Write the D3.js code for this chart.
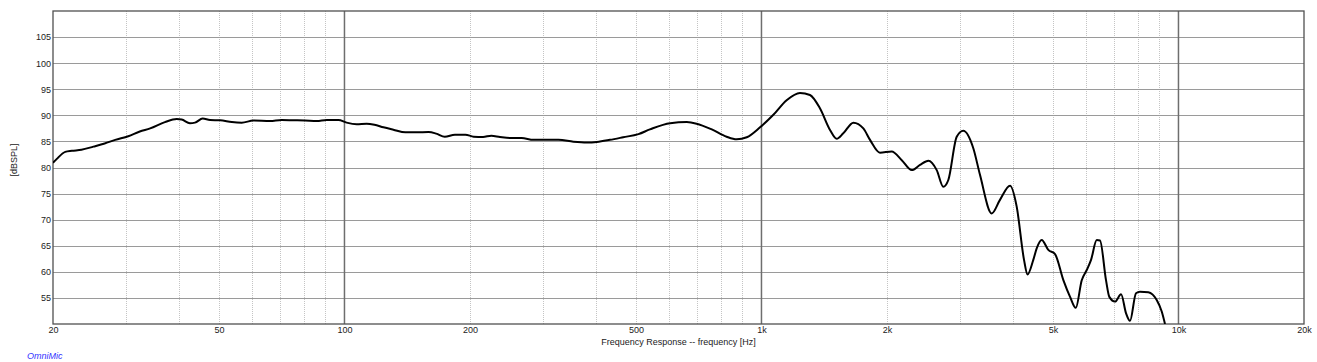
<!DOCTYPE html>
<html lang='en'>
	<head>
		<title>OmniMic Frequency Response</title>
		<script type='text/javascript' src='https://cdn.jsdelivr.net/npm/d3@7'></script>
		<style>
			body { margin: 0; background: #fff; }
			text { font-family: 'Liberation Sans', Arial, sans-serif; }
		</style>
	</head>
	<body>
		<svg id='svg' width='1317' height='362'></svg>
		<script type='text/javascript'>
		{
			// measured response
			var freq = [20, 20.4, 21.4, 22.2, 23.4, 25.0, 26.6, 28.2, 30.3, 32.3, 34.2, 37.1, 39.6, 40.7, 42.6, 43.8, 45.7, 47.6,
				50.3, 53.7, 56.7, 60.5, 66.3, 70.7, 75.4, 80.4, 85.8, 90.7, 96.7, 101.2, 107, 113, 118, 124, 131, 140, 149,
				159, 166, 174, 184, 195, 204, 215, 225, 236, 250, 266, 284, 306, 326, 354, 381, 403, 433, 466, 507, 540,
				604, 662, 699, 760, 825, 872, 922, 992, 1068, 1149, 1237, 1307, 1381, 1460, 1515, 1571, 1661, 1755, 1821,
				1924, 2052, 2170, 2293, 2400, 2513, 2632, 2729, 2806, 2939, 3048, 3221, 3342, 3566, 3732, 3945, 4093,
				4262, 4345, 4486, 4571, 4699, 4874, 5058, 5296, 5496, 5672, 5862, 6026, 6171, 6368, 6485, 6702, 6826,
				7046, 7284, 7487, 7652, 7910, 8087, 8466, 8868, 9117, 9284];
			var spl = [80.9, 81.6, 83.0, 83.2, 83.4, 84.0, 84.6, 85.3, 86.0, 86.9, 87.5, 88.7, 89.3, 89.2, 88.5, 88.6, 89.4, 89.1,
				89.05, 88.7, 88.6, 89.0, 88.9, 89.1, 89.05, 89.0, 88.9, 89.1, 89.1, 88.6, 88.3, 88.4, 88.2, 87.7, 87.25, 86.75, 86.75,
				86.8, 86.5, 85.9, 86.3, 86.3, 85.9, 85.85, 86.1, 85.85, 85.65, 85.65, 85.3, 85.3, 85.3, 84.95, 84.8, 84.9, 85.3, 85.8, 86.4, 87.3,
				88.5, 88.7, 88.4, 87.3, 85.9, 85.4, 85.8, 87.7, 90.1, 92.9, 94.3, 93.9, 91.35, 87.2, 85.5, 86.55, 88.6, 87.5, 85.3,
				82.85, 83.05, 81.4, 79.5, 80.5, 81.3, 79.5, 76.3, 77.6, 85.9, 87.05, 83.7, 78.6, 71.2, 73.8, 76.5, 72.5,
				62.3, 59.5, 62.3, 64.5, 66.1, 64.2, 63.4, 58.4, 55.2, 53.1, 58.4, 60.35, 62.3, 66.1, 66.0, 58.4, 55.2,
				54.3, 55.7, 52.05, 50.6, 55.9, 56.2, 56.1, 54.6, 52.4, 50.0];

			var xTicks = [20, 50, 100, 200, 500, 1000, 2000, 5000, 10000, 20000];
			var xTickLabels = ['20', '50', '100', '200', '500', '1k', '2k', '5k', '10k', '20k'];
			var yTicks = [55, 60, 65, 70, 75, 80, 85, 90, 95, 100, 105];
			var majorFreqs = [100, 1000, 10000];

			var minorFreqs = [];
			[10, 100, 1000].forEach(function(dec) {
				for (var k = 2; k <= 9; k++) {
					var f = k * dec;
					if (f > 20 && f < 20000 && majorFreqs.indexOf(f) < 0) minorFreqs.push(f);
				}
			});

			var plotL = 53, plotR = 1304, plotT = 11, plotB = 324;
			var svg = d3.select('#svg');

			var x = d3.scaleLog().domain([20, 20000]).range([plotL, plotR]);
			var y = d3.scaleLinear().domain([50, 110]).range([plotB, plotT]);

			// minor dotted verticals
			svg.append('g').selectAll('line').data(minorFreqs).enter().append('line')
				.attr('x1', d => Math.round(x(d)) + 0.5).attr('x2', d => Math.round(x(d)) + 0.5)
				.attr('y1', plotT).attr('y2', plotB)
				.attr('stroke', '#c4c4c4').attr('stroke-width', 1).attr('stroke-dasharray', '1,1');

			// horizontal grid
			svg.append('g').selectAll('line').data(yTicks).enter().append('line')
				.attr('x1', plotL).attr('x2', plotR)
				.attr('y1', d => Math.round(y(d)) + 0.5).attr('y2', d => Math.round(y(d)) + 0.5)
				.attr('stroke', '#9a9a9a').attr('stroke-width', 1.2);

			// decade lines
			svg.append('g').selectAll('line').data(majorFreqs).enter().append('line')
				.attr('x1', d => x(d)).attr('x2', d => x(d))
				.attr('y1', plotT).attr('y2', plotB)
				.attr('stroke', '#6e6e6e').attr('stroke-width', 1.5);

			// frame
			svg.append('rect').attr('x', plotL).attr('y', plotT).attr('width', plotR - plotL).attr('height', plotB - plotT)
				.attr('fill', 'none').attr('stroke', '#505050').attr('stroke-width', 1.3);

			// curve
			svg.append('clipPath').attr('id', 'plotclip').append('rect')
				.attr('x', plotL).attr('y', plotT).attr('width', plotR - plotL).attr('height', plotB - plotT);
			var line = d3.line().x((d, i) => x(freq[i])).y(d => y(d)).curve(d3.curveMonotoneX);
			svg.append('path').datum(spl)
				.attr('d', line)
				.attr('clip-path', 'url(#plotclip)')
				.attr('fill', 'none').attr('stroke', '#000').attr('stroke-width', 2).attr('stroke-linejoin', 'round');

			// axes (labels only)
			var xAxis = d3.axisBottom(x).tickValues(xTicks).tickSize(0).tickPadding(3)
				.tickFormat((d, i) => xTickLabels[i]);
			var gx = svg.append('g').attr('transform', 'translate(0,' + plotB + ')').call(xAxis);
			gx.select('.domain').remove();
			gx.selectAll('text').attr('font-size', 9).attr('fill', '#222').attr('font-family', "'Liberation Sans', Arial, sans-serif");

			var yAxis = d3.axisLeft(y).tickValues(yTicks).tickSize(0).tickPadding(2);
			var gy = svg.append('g').attr('transform', 'translate(' + plotL + ',0)').call(yAxis);
			gy.select('.domain').remove();
			gy.selectAll('text').attr('font-size', 9).attr('fill', '#222').attr('font-family', "'Liberation Sans', Arial, sans-serif");

			svg.append('text').attr('x', (plotL + plotR) / 2).attr('y', 345).attr('text-anchor', 'middle')
				.attr('font-size', 9).attr('fill', '#222').text('Frequency Response -- frequency [Hz]');

			svg.append('text').attr('transform', 'translate(17,160) rotate(-90)').attr('text-anchor', 'middle')
				.attr('font-size', 9).attr('fill', '#222').text('[dBSPL]');

			svg.append('text').attr('x', 27).attr('y', 359).attr('font-size', 9).attr('font-style', 'italic')
				.attr('fill', '#3333ff').text('OmniMic');
		}
		</script>
	</body>
</html>
